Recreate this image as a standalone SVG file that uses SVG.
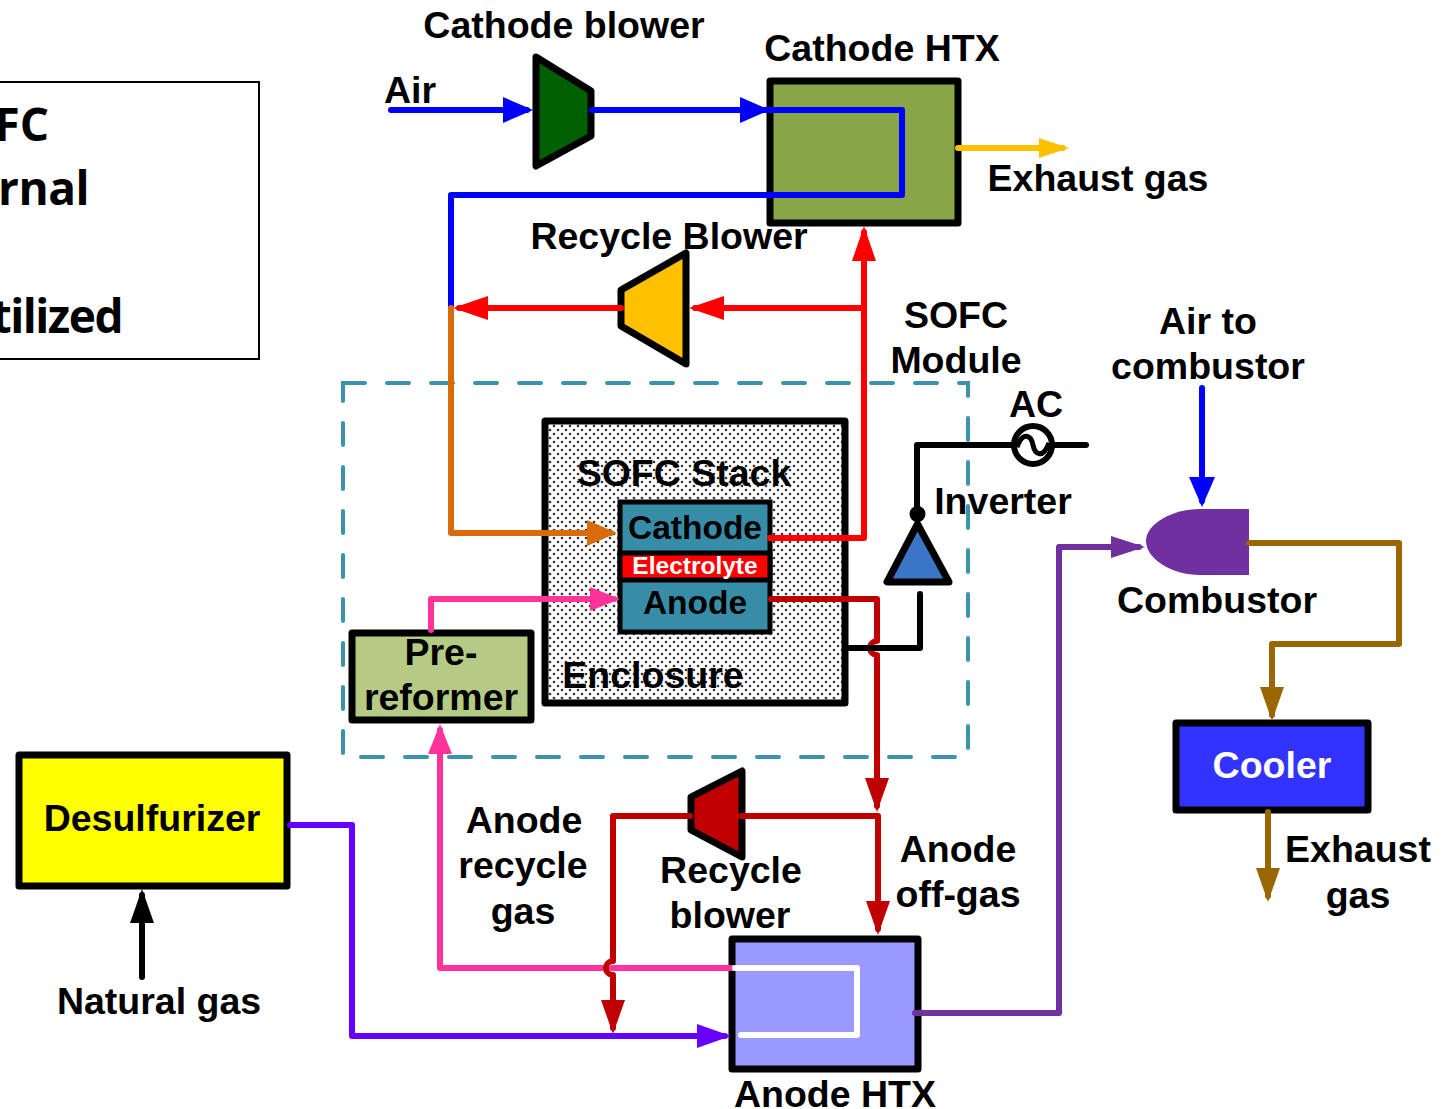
<svg xmlns="http://www.w3.org/2000/svg" width="1452" height="1109" viewBox="0 0 1452 1109">
<style>
text{font-family:"Liberation Sans",Arial,sans-serif;font-weight:700;font-size:37.5px;fill:#000;text-anchor:middle}
.legend{font-family:"Open Sans","Noto Sans",sans-serif;font-size:46px;text-anchor:end}
.box{stroke:#000;stroke-width:7;stroke-linejoin:round}
.c{fill:none;stroke-width:6;stroke-linejoin:round;stroke-linecap:round}
.blue{stroke:#0000FF}.red{stroke:#FF0000}.dred{stroke:#C00000}.orange{stroke:#D86C0C}.pink{stroke:#FF3399}.violet{stroke:#6600FF}.purple{stroke:#7030A0}.brown{stroke:#996600}.yellow{stroke:#FFC000}.black{stroke:#000}.white{stroke:#FFF}
</style>
<defs>
<pattern id="dots" width="8" height="8" patternUnits="userSpaceOnUse"><rect width="8" height="8" fill="#fff"/><circle cx="2" cy="2" r="1.3" fill="#333"/><circle cx="6" cy="6" r="1.3" fill="#333"/></pattern>
<marker id="aBlue" markerUnits="userSpaceOnUse" markerWidth="32" markerHeight="28" refX="24" refY="14" orient="auto"><path d="M0 1L30 14L0 27Z" fill="#0000FF"/></marker>
<marker id="aRed" markerUnits="userSpaceOnUse" markerWidth="37" markerHeight="28" refX="29" refY="14" orient="auto"><path d="M0 2L35 14L0 26Z" fill="#FF0000"/></marker>
<marker id="aDred" markerUnits="userSpaceOnUse" markerWidth="38" markerHeight="28" refX="28" refY="14" orient="auto"><path d="M0 2L34 14L0 26Z" fill="#C00000"/></marker>
<marker id="aOrange" markerUnits="userSpaceOnUse" markerWidth="32" markerHeight="28" refX="24" refY="14" orient="auto"><path d="M0 1L30 14L0 27Z" fill="#D86C0C"/></marker>
<marker id="aPink" markerUnits="userSpaceOnUse" markerWidth="32" markerHeight="28" refX="24" refY="14" orient="auto"><path d="M0 2L30 14L0 26Z" fill="#FF3399"/></marker>
<marker id="aViolet" markerUnits="userSpaceOnUse" markerWidth="36" markerHeight="28" refX="28" refY="14" orient="auto"><path d="M0 2L34 14L0 26Z" fill="#6600FF"/></marker>
<marker id="aPurple" markerUnits="userSpaceOnUse" markerWidth="36" markerHeight="28" refX="28" refY="14" orient="auto"><path d="M0 3L34 14L0 25Z" fill="#7030A0"/></marker>
<marker id="aBrown" markerUnits="userSpaceOnUse" markerWidth="36" markerHeight="28" refX="28" refY="14" orient="auto"><path d="M0 2L34 14L0 26Z" fill="#996600"/></marker>
<marker id="aYellow" markerUnits="userSpaceOnUse" markerWidth="32" markerHeight="28" refX="24" refY="14" orient="auto"><path d="M0 4L30 14L0 24Z" fill="#FFC000"/></marker>
<marker id="aBlack" markerUnits="userSpaceOnUse" markerWidth="36" markerHeight="28" refX="28" refY="14" orient="auto"><path d="M0 2L34 14L0 26Z" fill="#000"/></marker>
</defs>
<rect width="1452" height="1109" fill="#fff"/>

<g id="legend">
<rect x="-10" y="82" width="269" height="277" fill="#fff" stroke="#000" stroke-width="2"/>
<text class="legend" x="49" y="141">FC</text>
<text class="legend" x="89" y="205" style="letter-spacing:-.5px">rnal</text>
<text class="legend" x="122" y="333" style="letter-spacing:-1.5px">tilized</text>
</g>
<g id="sofc-module"><rect x="343" y="383" width="625" height="374" fill="none" stroke="#3A93AB" stroke-width="4" stroke-dasharray="22 22" stroke-linecap="round"/>
<text x="956" y="328">SOFC</text><text x="956" y="373">Module</text></g>
<g id="enclosure"><rect class="box" x="545" y="421" width="300" height="282" fill="url(#dots)" stroke-width="8"/>
<text x="684" y="486">SOFC Stack</text><text x="653" y="688">Enclosure</text></g>
<g id="stack">
<rect x="620" y="502" width="150" height="130" fill="#378DA8" stroke="#000" stroke-width="5"/>
<rect x="620" y="553" width="150" height="27" fill="#FF0000" stroke="#000" stroke-width="5"/>
<text x="695" y="539" style="font-size:33.5px">Cathode</text>
<text x="695" y="574" style="font-size:24.5px;fill:#fff">Electrolyte</text>
<text x="695" y="614" style="font-size:33.5px">Anode</text>
</g>
<g id="cathode-htx"><rect class="box" x="770" y="81" width="188" height="142" fill="#88A548"/><text x="882" y="61">Cathode HTX</text></g>
<g id="cathode-blower"><path class="box" d="M536 57L591 91V136L536 166Z" fill="#006000"/><text x="564" y="38">Cathode blower</text></g>
<g id="recycle-blower-top"><path class="box" d="M686 253V364L621 326V290Z" fill="#FFC000"/><text x="669" y="249">Recycle Blower</text></g>
<g id="pre-reformer"><rect class="box" x="352" y="633" width="179" height="87" fill="#B5CB85"/><text x="441" y="665">Pre-</text><text x="441" y="710">reformer</text></g>
<g id="desulfurizer"><rect class="box" x="19" y="755" width="268" height="131" fill="#FFFF00"/><text x="152" y="831">Desulfurizer</text></g>
<g id="recycle-blower-bottom"><path class="box" d="M742 771V857L691 830V797Z" fill="#C00000"/><text x="731" y="883">Recycle</text><text x="730" y="928">blower</text></g>
<g id="anode-htx"><rect class="box" x="732" y="939" width="186" height="130" fill="#9999FF"/><text x="835" y="1107">Anode HTX</text></g>
<g id="combustor"><path d="M1249 509H1200C1172 509 1146 524 1146 541C1146 559 1172 575 1200 575H1249Z" fill="#7030A0"/><text x="1217" y="613">Combustor</text></g>
<g id="cooler"><rect class="box" x="1176" y="723" width="192" height="87" fill="#3333FF"/><text x="1272" y="778" style="fill:#fff">Cooler</text></g>
<g id="inverter"><path class="box" d="M917.500 524L887 582H949Z" fill="#3A75C8"/><circle cx="917.500" cy="514" r="8"/><text x="1003" y="514">Inverter</text></g>
<g id="ac"><circle cx="1033" cy="445" r="19" fill="#fff" stroke="#000" stroke-width="6"/><path d="M1017 447C1023 431 1031 435 1033 445C1035 455 1043 459 1049 443" fill="none" stroke="#000" stroke-width="5"/><text x="1036" y="417">AC</text></g>

<g id="labels">
<text x="410" y="103">Air</text>
<text x="1098" y="191">Exhaust gas</text>
<text x="1208" y="334">Air to</text><text x="1208" y="379">combustor</text>
<text x="524" y="833">Anode</text><text x="523" y="878">recycle</text><text x="523" y="924">gas</text>
<text x="958" y="862">Anode</text><text x="958" y="907">off-gas</text>
<text x="1358" y="862">Exhaust</text><text x="1358" y="908">gas</text>
<text x="159" y="1014">Natural gas</text>
</g>

<g id="connectors">
<path class="c blue" d="M391 110H527" marker-end="url(#aBlue)"/>
<path class="c blue" d="M592 110H764" marker-end="url(#aBlue)"/>
<path class="c blue" d="M764 110H902V195H451V308"/>
<path class="c yellow" d="M958 148H1063" marker-end="url(#aYellow)"/>
<path class="c red" d="M770 538H864V232" marker-end="url(#aRed)"/>
<path class="c red" d="M864 308H695" marker-end="url(#aRed)"/>
<path class="c red" d="M621 308H459" marker-end="url(#aRed)"/>
<path class="c orange" d="M451 308V533H611" marker-end="url(#aOrange)"/>
<path class="c pink" d="M431 630V599H614" marker-end="url(#aPink)"/>
<path class="c pink" d="M734 968H612M604 968H440V730" marker-end="url(#aPink)"/>
<path class="c dred" d="M771 599H877V641A7 7 0 0 0 877 655V806" marker-end="url(#aDred)"/>
<path class="c dred" d="M741 816H878V929" marker-end="url(#aDred)"/>
<path class="c dred" d="M690 816H613V961A7 7 0 0 0 613 975V1028" marker-end="url(#aDred)"/>
<path class="c black" d="M849 648H920V594"/>
<path class="c black" d="M917 514V445H1012M1054 445H1086"/>
<path class="c violet" d="M290 825H352V1036H725" marker-end="url(#aViolet)"/>
<path class="c white" d="M735 968H857V1035H741"/>
<path class="c purple" d="M915 1013H1059V547H1139" marker-end="url(#aPurple)"/>
<path class="c blue" d="M1202 388V501" marker-end="url(#aBlue)"/>
<path class="c brown" d="M1249 543H1399V644H1272V715" marker-end="url(#aBrown)"/>
<path class="c brown" d="M1268 812V896" marker-end="url(#aBrown)"/>
<path class="c black" d="M142 977V895" marker-end="url(#aBlack)"/>
</g>
</svg>
